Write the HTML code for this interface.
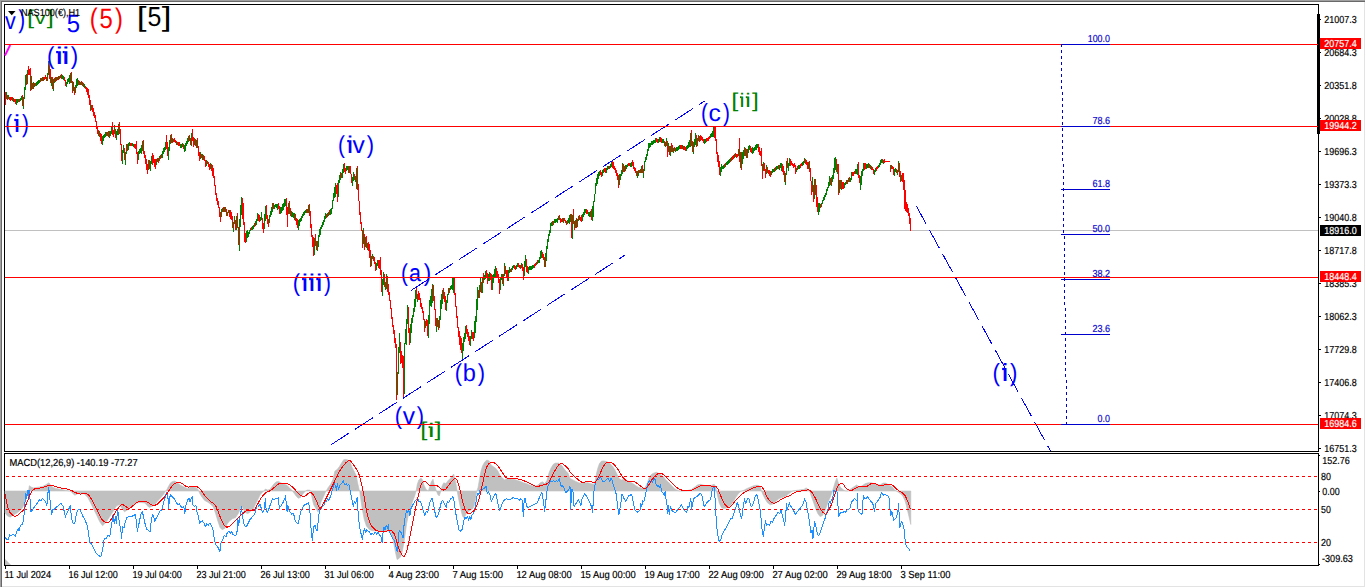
<!DOCTYPE html>
<html lang="en"><head><meta charset="utf-8"><title>NAS100 H1 chart</title>
<style>
html,body{margin:0;padding:0;background:#fff;overflow:hidden}
body{width:1366px;height:588px;font-family:'Liberation Sans', sans-serif}
svg{display:block;position:absolute;left:0;top:0}
text{white-space:pre}
</style></head><body>
<svg width="1366" height="588" viewBox="0 0 1366 588"><g shape-rendering="crispEdges">
<rect x="0" y="0" width="1366" height="588" fill="#ffffff"/>
<rect x="0" y="0" width="1365" height="1" fill="#a0a0a0"/>
<rect x="0" y="0" width="1" height="587" fill="#a0a0a0"/>
<rect x="1" y="1" width="1364" height="1" fill="#696969"/>
<rect x="1" y="1" width="1" height="586" fill="#696969"/>
<rect x="2" y="586" width="1363" height="1" fill="#e3e3e3"/>
<rect x="1364" y="2" width="1" height="585" fill="#e3e3e3"/>
<rect x="4" y="4" width="1315" height="1" fill="#000"/>
<rect x="4" y="4" width="1" height="448" fill="#000"/>
<rect x="4" y="451" width="1315" height="1" fill="#000"/>
<rect x="4" y="453" width="1315" height="1" fill="#000"/>
<rect x="4" y="453" width="1" height="113" fill="#000"/>
<rect x="4" y="565" width="1315" height="1" fill="#000"/>
<rect x="1318" y="4" width="1" height="448" fill="#000"/>
<rect x="1318" y="453" width="1" height="113" fill="#000"/>
<rect x="1317" y="14" width="3" height="120" fill="#000"/>
<rect x="5" y="230" width="1313" height="1" fill="#c0c0c0"/>
<rect x="1319" y="19" width="2" height="1" fill="#000"/>
<rect x="1319" y="52" width="2" height="1" fill="#000"/>
<rect x="1319" y="85" width="2" height="1" fill="#000"/>
<rect x="1319" y="118" width="2" height="1" fill="#000"/>
<rect x="1319" y="151" width="2" height="1" fill="#000"/>
<rect x="1319" y="184" width="2" height="1" fill="#000"/>
<rect x="1319" y="217" width="2" height="1" fill="#000"/>
<rect x="1319" y="250" width="2" height="1" fill="#000"/>
<rect x="1319" y="283" width="2" height="1" fill="#000"/>
<rect x="1319" y="316" width="2" height="1" fill="#000"/>
<rect x="1319" y="349" width="2" height="1" fill="#000"/>
<rect x="1319" y="382" width="2" height="1" fill="#000"/>
<rect x="1319" y="415" width="2" height="1" fill="#000"/>
<rect x="1319" y="448" width="2" height="1" fill="#000"/>
<rect x="1319" y="455" width="1" height="1" fill="#000"/>
<rect x="1319" y="491" width="1" height="1" fill="#000"/>
<rect x="1319" y="564" width="1" height="1" fill="#000"/>
<rect x="5" y="566" width="1" height="3" fill="#000"/>
<rect x="69" y="566" width="1" height="3" fill="#000"/>
<rect x="133" y="566" width="1" height="3" fill="#000"/>
<rect x="197" y="566" width="1" height="3" fill="#000"/>
<rect x="261" y="566" width="1" height="3" fill="#000"/>
<rect x="325" y="566" width="1" height="3" fill="#000"/>
<rect x="389" y="566" width="1" height="3" fill="#000"/>
<rect x="453" y="566" width="1" height="3" fill="#000"/>
<rect x="517" y="566" width="1" height="3" fill="#000"/>
<rect x="581" y="566" width="1" height="3" fill="#000"/>
<rect x="645" y="566" width="1" height="3" fill="#000"/>
<rect x="709" y="566" width="1" height="3" fill="#000"/>
<rect x="773" y="566" width="1" height="3" fill="#000"/>
<rect x="837" y="566" width="1" height="3" fill="#000"/>
<rect x="901" y="566" width="1" height="3" fill="#000"/>
</g>
<g>
<path d="M5.1 491.0 L5.1 512.8 L7.3 515.8 L10.2 517.2 L13.2 515.0 L16.1 513.6 L19.0 511.4 L22.0 508.4 L24.2 504.8 L25.6 498.9 L27.1 492.3 L28.6 490.9 L29.3 485.7 L31.5 487.2 L33.7 487.9 L38.1 487.2 L42.5 486.5 L45.4 485.0 L49.0 482.8 L50.5 485.0 L52.7 487.2 L55.6 488.4 L58.6 489.0 L63.0 489.8 L65.9 490.4 L68.8 490.9 L70.3 490.9 L72.5 493.1 L74.7 495.3 L77.6 493.8 L80.5 493.4 L84.2 493.8 L87.8 497.5 L90.8 503.3 L93.7 509.2 L96.6 515.0 L99.6 521.6 L102.5 525.7 L104.7 523.8 L106.9 520.9 L109.8 516.5 L112.7 512.1 L115.7 507.0 L117.1 505.5 L119.3 504.8 L121.5 507.7 L124.5 511.8 L127.4 509.9 L130.3 507.0 L133.2 505.5 L136.2 503.3 L139.1 502.6 L142.0 502.6 L144.9 503.0 L147.1 505.5 L149.3 507.4 L152.3 506.2 L155.2 504.0 L158.1 500.4 L161.1 497.5 L164.0 493.8 L165.4 490.9 L166.2 490.9 L168.4 486.5 L170.6 482.8 L172.8 481.4 L175.0 481.1 L177.2 482.8 L180.1 485.0 L183.0 486.5 L185.9 487.9 L188.9 488.7 L190.0 487.2 L192.9 486.9 L195.9 487.5 L198.1 489.4 L198.8 490.9 L199.5 493.1 L201.7 496.7 L204.6 500.4 L207.6 502.1 L210.5 504.0 L213.4 507.0 L215.6 513.6 L217.8 520.9 L220.0 527.5 L222.2 529.7 L225.1 528.2 L227.3 523.8 L229.5 520.9 L232.5 518.7 L235.4 517.7 L238.3 513.6 L240.5 508.4 L242.0 506.2 L243.4 509.2 L245.6 512.8 L247.8 513.6 L250.0 512.1 L253.0 509.2 L255.9 503.3 L258.1 498.9 L260.3 494.5 L262.5 492.3 L263.9 490.9 L265.4 489.0 L267.6 490.1 L269.8 489.4 L272.0 486.5 L274.2 483.6 L276.4 481.8 L278.6 481.4 L280.8 482.8 L283.7 484.3 L286.6 485.0 L289.6 487.9 L291.8 490.1 L292.5 490.9 L294.0 493.1 L296.1 496.0 L298.3 498.2 L300.5 497.5 L302.0 495.3 L304.2 492.3 L305.7 490.9 L307.1 490.1 L309.3 490.1 L310.8 490.9 L312.3 498.9 L313.7 504.8 L315.9 508.4 L318.1 512.1 L319.6 507.0 L321.0 501.9 L323.2 497.5 L325.4 492.3 L326.2 490.9 L328.4 487.2 L330.6 484.3 L332.8 479.9 L334.9 471.1 L337.1 469.6 L339.3 466.7 L341.5 463.1 L343.7 459.7 L345.9 459.4 L348.1 460.1 L350.3 462.3 L351.8 466.7 L354.0 471.1 L356.2 475.5 L357.6 482.8 L359.1 489.4 L359.8 490.9 L360.1 494.4 L360.5 497.3 L362.0 507.6 L364.2 519.3 L366.4 525.9 L369.3 529.5 L372.2 530.7 L376.6 531.0 L382.5 531.0 L388.3 531.0 L390.5 532.5 L392.7 538.3 L394.2 545.6 L395.6 553.0 L397.1 559.5 L398.6 558.8 L400.8 556.6 L402.2 551.5 L403.7 544.2 L405.2 533.9 L406.6 523.7 L408.1 516.4 L410.3 509.0 L412.5 501.7 L414.7 495.9 L416.1 491.0 L417.3 484.3 L418.8 479.9 L421.0 478.1 L422.5 479.9 L423.9 485.0 L426.1 489.4 L428.3 490.9 L429.8 486.5 L431.2 482.1 L433.0 479.2 L434.2 484.3 L436.4 490.9 L437.8 494.5 L439.3 496.0 L440.8 490.9 L442.2 485.7 L443.7 482.8 L445.9 483.6 L448.1 480.6 L450.3 478.4 L451.7 476.7 L453.6 474.0 L454.7 477.7 L456.1 484.3 L457.2 490.9 L458.3 497.5 L459.8 504.8 L461.3 511.4 L462.7 516.5 L464.2 517.7 L466.4 513.6 L468.6 511.4 L470.8 509.9 L473.0 508.4 L474.4 504.8 L475.9 497.5 L476.9 490.9 L478.1 487.2 L479.6 478.4 L481.0 471.1 L482.5 466.0 L484.7 462.0 L486.9 460.1 L489.1 460.9 L491.3 465.2 L493.5 466.7 L495.7 468.2 L497.9 471.1 L500.1 475.5 L502.3 477.7 L504.5 479.9 L506.6 478.4 L508.8 478.7 L511.8 479.2 L514.7 479.6 L517.6 480.6 L520.6 481.4 L523.5 482.8 L526.4 483.6 L529.3 485.0 L532.3 485.7 L535.2 486.2 L538.1 485.0 L540.3 482.8 L542.5 481.8 L544.7 483.6 L546.9 480.6 L549.1 472.6 L551.3 467.4 L553.5 464.1 L555.7 463.1 L558.6 463.1 L561.6 465.2 L563.7 468.2 L565.9 471.1 L568.1 473.3 L570.0 478.4 L572.9 479.9 L575.9 481.4 L578.8 482.8 L581.7 483.6 L584.6 482.8 L587.6 482.8 L590.5 483.6 L593.4 484.3 L594.9 482.8 L596.4 474.0 L597.8 468.2 L599.3 463.8 L601.5 461.1 L603.7 460.9 L606.6 461.6 L609.5 463.1 L612.5 466.0 L614.7 469.6 L616.9 474.0 L619.0 478.4 L621.2 479.9 L624.2 479.2 L627.1 480.6 L630.0 482.1 L633.0 483.6 L635.9 485.7 L638.8 487.5 L641.7 487.9 L644.7 487.9 L646.9 484.3 L648.3 479.9 L649.8 476.2 L652.0 474.0 L654.2 472.9 L656.4 472.3 L658.6 473.3 L660.8 474.8 L663.7 477.0 L665.9 479.9 L668.1 482.1 L670.3 484.3 L672.5 486.5 L674.7 488.7 L676.9 490.1 L679.1 490.9 L682.7 490.9 L687.1 490.6 L691.5 489.4 L694.5 487.2 L697.4 485.0 L700.3 484.3 L703.2 485.0 L706.2 485.7 L709.1 486.0 L712.0 485.0 L714.2 484.3 L715.7 486.5 L716.4 490.9 L717.9 497.5 L719.3 503.3 L721.5 507.7 L723.7 508.4 L726.7 508.0 L729.6 506.2 L731.8 504.0 L734.0 500.4 L736.2 496.7 L738.4 493.8 L740.6 491.6 L742.0 490.9 L744.2 490.1 L747.2 488.4 L750.1 487.2 L753.0 486.0 L755.9 485.3 L758.1 485.3 L760.3 486.5 L761.5 490.9 L762.9 494.5 L765.1 498.9 L767.3 502.6 L770.2 504.8 L773.2 504.0 L776.1 501.1 L779.0 498.6 L782.0 497.5 L784.9 496.7 L787.8 494.5 L790.7 492.3 L792.9 490.9 L795.1 490.6 L798.1 490.1 L801.0 489.8 L803.9 489.4 L806.1 487.9 L808.3 489.4 L809.8 490.9 L811.2 496.0 L813.4 501.9 L815.6 508.4 L817.8 513.6 L820.0 516.5 L822.2 515.8 L824.4 512.1 L826.6 506.2 L828.8 500.4 L831.0 495.3 L832.5 490.9 L833.9 486.5 L835.4 481.4 L836.9 478.1 L838.3 482.8 L839.8 486.5 L841.3 487.9 L843.5 490.1 L845.7 490.9 L847.8 490.9 L850.0 489.4 L852.2 487.9 L854.4 486.5 L856.6 485.0 L858.8 486.5 L861.0 486.5 L863.2 485.0 L865.4 483.6 L868.3 482.8 L871.3 482.8 L874.2 483.6 L877.1 484.3 L880.1 485.0 L883.0 483.1 L885.9 483.1 L888.8 485.0 L891.8 486.5 L894.7 490.1 L896.2 490.9 L898.4 492.3 L900.6 493.8 L902.8 496.0 L904.9 500.4 L906.4 505.5 L907.9 512.1 L909.3 518.0 L910.8 524.5 L910.8 491.0Z" fill="#c0c0c0" stroke="#c0c0c0" stroke-width="0.6"/>
<path d="M5 559 L5 565 L11 565Z" fill="#c0c0c0"/>
<line x1="6" y1="476.5" x2="1317" y2="476.5" stroke="#ff0000" stroke-width="1" stroke-dasharray="3 3" shape-rendering="crispEdges"/>
<line x1="6" y1="509.5" x2="1317" y2="509.5" stroke="#ff0000" stroke-width="1" stroke-dasharray="3 3" shape-rendering="crispEdges"/>
<line x1="6" y1="542.5" x2="1317" y2="542.5" stroke="#ff0000" stroke-width="1" stroke-dasharray="3 3" shape-rendering="crispEdges"/>
<path d="M5.1 537.0 L6.6 539.2 L8.1 540.2 L9.5 534.8 L11.0 536.3 L12.4 534.1 L13.9 534.8 L15.4 536.3 L16.8 531.1 L18.3 528.9 L19.0 531.1 L20.5 525.3 L22.0 524.5 L23.1 521.6 L24.2 513.6 L24.9 503.3 L25.6 493.1 L26.4 498.9 L27.4 490.9 L28.1 496.7 L29.0 490.1 L30.0 498.9 L30.7 511.4 L32.2 510.6 L33.7 507.7 L35.1 506.2 L36.6 504.0 L38.1 501.9 L39.5 499.7 L41.0 500.4 L42.5 498.2 L43.9 499.7 L45.4 501.9 L46.9 505.5 L47.9 493.1 L48.8 487.9 L49.8 497.5 L50.8 507.7 L51.5 515.0 L52.7 509.9 L54.2 509.2 L56.4 507.0 L58.6 505.5 L60.8 503.3 L63.0 506.2 L64.4 512.1 L65.4 517.2 L66.6 513.6 L68.1 510.6 L70.3 505.5 L71.7 519.4 L73.2 523.1 L74.7 523.8 L75.7 518.0 L76.9 512.1 L78.3 509.2 L79.8 509.9 L81.3 512.8 L82.7 515.8 L84.2 518.7 L85.7 521.6 L87.1 525.3 L88.3 531.1 L88.9 536.6 L90.0 542.5 L91.5 543.9 L93.7 548.3 L95.9 552.7 L98.1 555.3 L100.3 556.4 L101.3 555.6 L102.5 549.8 L104.0 540.3 L105.1 538.1 L106.1 538.8 L107.6 535.9 L109.1 535.1 L109.8 536.6 L110.5 531.1 L112.0 522.3 L113.0 515.0 L114.2 523.8 L115.4 516.5 L116.4 523.1 L117.6 509.2 L118.6 516.5 L119.8 525.3 L120.8 529.7 L121.5 538.5 L122.7 526.7 L124.2 527.5 L125.2 522.3 L126.6 518.0 L128.8 516.5 L131.0 516.5 L133.2 515.8 L135.4 514.3 L136.5 522.3 L137.3 531.1 L138.4 526.7 L139.8 519.4 L141.3 512.8 L142.3 511.4 L143.5 516.5 L144.9 523.1 L146.4 528.9 L148.6 530.4 L150.1 531.9 L151.1 522.3 L152.6 514.3 L153.7 517.2 L154.8 521.6 L155.9 518.7 L157.4 516.5 L158.9 513.6 L160.3 510.6 L161.8 509.9 L163.3 504.0 L164.7 498.9 L166.2 493.1 L166.9 492.3 L168.1 498.9 L168.7 508.4 L169.5 498.2 L170.6 494.5 L172.0 496.7 L173.5 498.2 L175.0 499.7 L176.4 502.6 L177.9 504.8 L179.4 504.0 L180.8 506.2 L182.3 507.7 L183.7 506.2 L184.8 513.6 L185.9 505.5 L187.4 500.4 L188.9 498.2 L190.0 501.9 L191.2 498.9 L192.2 496.7 L192.9 504.8 L194.4 506.2 L195.9 505.5 L196.6 511.4 L198.1 515.0 L199.5 523.1 L201.0 521.6 L202.4 520.9 L203.9 523.1 L205.4 526.7 L206.8 523.8 L208.3 525.3 L209.8 523.1 L211.2 525.3 L212.7 528.2 L213.4 532.5 L214.2 538.3 L215.6 544.2 L217.8 547.1 L220.0 551.5 L221.0 542.7 L222.2 540.5 L224.4 535.4 L225.9 536.9 L227.3 532.6 L228.8 531.1 L230.3 533.3 L231.7 531.9 L233.2 534.8 L234.7 535.5 L236.1 534.8 L237.1 531.1 L237.9 519.4 L238.8 525.3 L239.8 516.5 L240.8 512.8 L241.5 507.0 L242.3 514.3 L243.0 519.4 L244.2 525.3 L245.6 526.7 L247.1 525.3 L248.6 522.3 L250.0 519.4 L251.5 518.0 L253.0 515.8 L254.4 514.3 L255.6 511.4 L256.6 506.2 L257.6 504.0 L258.8 506.2 L260.0 504.0 L261.3 508.4 L262.5 512.1 L263.9 510.6 L264.7 504.0 L265.4 498.9 L266.1 509.2 L267.3 512.8 L268.3 510.6 L269.8 506.2 L271.3 501.9 L272.7 498.9 L274.2 499.7 L275.7 498.2 L277.1 498.9 L278.3 497.5 L279.3 508.4 L280.8 506.2 L282.2 504.0 L283.7 501.1 L285.2 497.5 L285.6 495.3 L286.3 505.5 L287.1 511.4 L287.8 505.5 L288.8 509.9 L290.3 512.1 L291.8 514.3 L293.2 513.6 L294.4 516.5 L295.4 521.6 L296.9 523.1 L298.3 523.1 L299.4 518.0 L300.5 512.1 L302.0 509.2 L303.5 506.2 L304.9 504.8 L306.4 504.0 L307.6 503.3 L308.6 502.6 L309.6 507.7 L310.4 518.0 L311.2 531.1 L312.3 540.5 L313.3 529.5 L313.7 526.7 L315.2 525.3 L316.2 529.7 L317.1 530.4 L318.1 522.3 L318.8 515.0 L319.9 509.2 L321.0 508.4 L322.5 506.2 L324.0 505.5 L325.0 499.7 L326.2 501.9 L327.3 498.9 L328.4 500.4 L329.8 498.2 L331.3 493.8 L332.8 488.7 L334.2 483.6 L335.4 485.7 L336.4 490.1 L337.4 483.6 L338.6 489.4 L339.6 485.7 L340.8 484.3 L342.3 482.8 L343.3 480.6 L344.2 483.6 L345.2 485.0 L346.4 483.6 L347.4 485.7 L348.6 484.3 L349.6 486.5 L350.3 492.3 L351.5 497.5 L352.5 501.9 L353.3 507.0 L354.3 501.9 L355.4 503.3 L356.5 500.4 L357.3 497.5 L357.9 509.2 L358.7 519.4 L359.5 526.7 L360.6 531.1 L361.6 536.9 L362.5 539.0 L363.5 531.0 L364.5 528.9 L365.7 532.6 L366.9 529.7 L367.9 531.1 L369.4 531.9 L370.8 534.8 L372.3 533.3 L373.7 534.8 L375.2 531.9 L376.7 534.1 L378.1 531.9 L379.6 534.8 L381.1 536.9 L382.1 542.4 L383.3 530.3 L384.0 526.7 L385.0 530.4 L386.2 525.3 L387.4 528.2 L388.4 524.5 L388.6 528.1 L389.8 532.5 L391.2 535.4 L392.7 538.3 L394.2 540.5 L395.3 544.2 L396.4 548.6 L397.1 551.5 L397.8 544.2 L398.6 535.4 L399.3 530.3 L400.3 531.7 L401.5 533.2 L403.0 538.3 L403.7 529.5 L404.4 520.7 L405.6 514.9 L406.6 510.5 L407.8 512.7 L408.8 510.5 L410.0 515.6 L410.7 509.2 L412.2 506.2 L413.7 503.3 L415.1 501.1 L416.6 499.7 L417.8 498.6 L418.8 501.9 L420.3 501.1 L421.7 504.8 L423.2 510.6 L424.7 515.8 L426.1 511.4 L427.6 512.8 L429.0 506.2 L430.5 500.4 L432.0 498.5 L433.4 503.3 L434.9 512.1 L436.4 518.0 L437.8 515.8 L439.3 510.6 L440.8 504.0 L442.2 500.4 L443.7 501.9 L445.2 505.5 L446.2 507.7 L447.3 501.9 L448.8 502.6 L450.3 498.9 L451.7 498.2 L452.9 496.4 L453.9 500.4 L455.0 507.7 L456.1 515.0 L457.6 523.1 L459.1 530.4 L460.5 531.1 L462.0 529.7 L463.2 523.8 L464.6 517.2 L466.1 518.7 L467.6 516.5 L468.6 520.2 L469.6 516.5 L470.8 519.4 L471.9 515.0 L473.3 513.6 L474.4 510.6 L475.6 504.8 L476.6 497.5 L477.8 493.1 L478.8 494.5 L480.3 489.4 L481.8 490.1 L483.2 488.7 L484.7 487.9 L486.1 486.5 L487.3 493.8 L488.6 491.6 L490.1 495.3 L491.3 501.9 L492.7 498.2 L494.2 496.0 L495.7 493.1 L496.8 497.5 L498.3 505.5 L499.8 510.6 L501.2 506.2 L503.0 501.9 L504.7 499.7 L506.6 498.9 L508.8 499.7 L511.0 498.9 L513.2 497.5 L515.4 498.9 L517.6 498.2 L519.1 500.4 L520.6 498.9 L522.0 499.7 L522.8 509.9 L523.5 516.5 L524.2 498.9 L525.2 498.2 L526.4 505.5 L527.9 507.7 L529.3 507.0 L530.8 506.2 L533.0 504.8 L535.2 504.0 L537.4 502.6 L538.9 498.9 L540.3 495.3 L541.8 492.3 L542.8 497.5 L544.0 506.2 L544.7 511.4 L545.4 504.8 L546.6 494.5 L547.6 487.2 L549.1 483.6 L550.6 480.6 L552.0 481.4 L553.5 480.6 L555.0 481.4 L556.4 480.6 L557.9 481.4 L559.4 478.4 L560.4 484.3 L561.6 486.5 L563.0 485.7 L564.5 489.4 L565.9 493.1 L567.4 490.9 L568.9 489.4 L570.0 486.5 L570.7 509.2 L571.8 489.4 L572.9 490.1 L574.1 507.0 L575.6 504.0 L577.0 501.9 L578.5 499.7 L580.0 502.6 L581.0 505.5 L582.0 498.9 L583.5 496.0 L584.9 493.8 L586.4 496.0 L587.9 498.9 L589.3 501.9 L590.8 504.8 L592.0 508.4 L592.7 512.1 L593.4 497.5 L594.2 488.7 L595.2 484.3 L596.4 479.9 L597.5 478.4 L598.6 479.2 L600.0 477.7 L601.5 478.4 L602.9 482.1 L604.4 481.4 L605.9 479.9 L607.3 478.4 L608.8 479.2 L609.8 481.4 L611.0 478.4 L612.2 480.6 L613.2 485.0 L614.7 489.4 L616.1 493.8 L617.1 501.9 L618.0 509.2 L618.8 515.0 L619.8 509.2 L621.0 501.9 L622.0 493.8 L623.0 496.0 L624.2 498.9 L625.6 501.1 L627.1 498.9 L628.6 496.0 L630.0 495.3 L631.5 494.2 L632.7 498.9 L633.7 504.8 L634.7 509.9 L636.2 511.4 L637.3 512.1 L638.8 511.4 L640.0 509.9 L640.7 503.3 L641.7 506.2 L642.8 500.4 L643.9 501.9 L645.0 496.7 L646.1 491.6 L647.3 486.5 L648.3 482.1 L649.4 480.6 L650.5 482.8 L651.7 480.6 L652.7 482.1 L653.7 479.9 L654.9 478.4 L655.9 483.6 L657.1 486.5 L658.3 485.0 L659.3 487.9 L660.5 484.3 L661.5 491.6 L663.0 493.1 L664.4 495.3 L665.2 490.9 L665.9 498.9 L666.9 503.3 L667.7 513.6 L668.4 505.5 L669.3 514.3 L670.3 506.2 L671.3 509.2 L672.5 511.4 L674.0 512.1 L675.4 512.8 L676.9 510.6 L678.3 508.4 L679.8 507.0 L681.3 504.8 L682.4 507.0 L683.9 509.9 L685.7 511.4 L686.7 512.8 L687.9 506.2 L688.9 507.7 L690.1 501.9 L690.8 498.2 L691.5 509.2 L692.7 503.3 L693.7 498.9 L695.2 497.5 L696.6 496.7 L698.1 495.3 L699.6 493.8 L701.0 493.8 L702.2 496.7 L703.2 501.9 L704.3 507.0 L705.4 504.8 L706.9 502.6 L708.4 501.1 L709.8 500.4 L711.0 496.7 L712.0 490.9 L713.2 487.9 L714.2 487.2 L714.9 496.0 L715.7 510.6 L716.4 522.3 L717.1 529.7 L718.2 537.0 L719.3 541.7 L720.8 539.9 L722.3 534.1 L724.5 530.4 L726.7 526.7 L728.9 522.3 L731.1 518.0 L732.2 518.7 L733.3 515.0 L734.7 510.6 L736.2 506.2 L737.3 502.6 L738.4 505.5 L739.5 510.6 L740.6 515.0 L741.6 518.7 L742.5 512.1 L743.5 504.8 L744.5 498.9 L745.7 504.0 L746.9 500.4 L747.9 498.2 L748.9 498.9 L750.1 503.3 L751.3 507.0 L752.7 504.8 L754.2 500.4 L755.2 496.7 L756.7 494.5 L757.8 497.5 L758.9 503.3 L760.0 509.2 L761.2 519.4 L762.2 531.1 L763.2 536.3 L764.4 528.2 L765.6 520.9 L766.6 525.3 L768.1 523.8 L769.5 525.3 L771.0 521.6 L772.4 522.3 L773.9 518.7 L775.4 516.5 L776.8 514.3 L778.3 512.1 L779.8 513.6 L781.2 509.9 L782.3 515.8 L783.4 519.4 L784.6 525.3 L785.6 518.0 L786.4 503.3 L787.4 509.2 L788.6 505.5 L789.3 502.6 L790.3 505.5 L791.5 507.0 L792.9 509.9 L794.4 512.1 L795.4 514.3 L796.6 512.8 L798.1 510.6 L799.5 509.2 L801.0 507.0 L802.5 505.5 L803.6 501.9 L804.7 498.9 L806.1 502.6 L807.1 508.4 L808.0 512.8 L809.0 519.4 L810.1 526.7 L811.0 532.6 L812.0 529.7 L813.0 538.5 L813.9 528.2 L814.6 521.6 L815.6 525.3 L816.8 531.1 L818.1 535.2 L819.3 534.8 L820.8 531.1 L822.2 526.7 L823.7 522.3 L825.2 518.0 L826.6 513.6 L828.1 508.4 L829.3 501.9 L830.3 503.3 L831.4 499.7 L832.5 501.9 L833.6 490.1 L834.7 490.9 L835.7 493.8 L836.4 490.1 L837.3 493.1 L838.0 506.2 L838.8 516.5 L839.8 513.6 L841.3 512.1 L842.7 512.8 L844.2 511.4 L845.7 512.1 L847.1 509.9 L848.6 509.2 L850.0 508.4 L851.5 501.9 L853.0 500.4 L854.4 498.2 L855.9 499.7 L856.9 501.1 L857.5 493.8 L858.1 511.4 L859.6 512.8 L861.0 513.6 L862.0 514.3 L862.8 501.9 L863.5 495.3 L864.7 498.9 L866.1 498.2 L867.6 496.7 L869.1 498.9 L870.5 501.1 L872.0 502.6 L873.5 505.5 L874.5 511.4 L875.7 503.3 L877.1 501.9 L878.6 499.7 L880.1 497.5 L881.2 492.8 L882.3 493.8 L883.7 495.3 L885.2 494.5 L886.6 495.3 L888.1 496.0 L889.3 498.2 L890.0 509.2 L890.7 515.8 L891.8 511.4 L892.8 515.8 L893.7 520.2 L894.7 519.4 L895.9 518.0 L896.9 515.8 L897.9 511.4 L898.5 503.3 L899.1 513.6 L899.8 527.5 L900.8 523.8 L901.7 521.6 L902.8 524.5 L903.8 528.2 L904.6 531.2 L905.3 544.3 L906.8 546.5 L908.2 548.0 L909.7 550.5" fill="none" stroke="#1e90ff" stroke-width="1" stroke-linejoin="round" shape-rendering="crispEdges"/>
<path d="M5.1 493.8 L6.6 501.9 L8.1 508.4 L10.2 512.8 L12.4 515.0 L14.6 516.2 L16.8 515.8 L19.0 514.3 L21.2 512.1 L23.4 509.9 L25.6 505.5 L27.8 500.4 L30.0 494.5 L32.2 490.9 L34.4 489.0 L37.3 488.4 L41.0 487.9 L43.9 487.2 L46.9 486.0 L49.8 485.3 L52.7 485.5 L55.6 486.5 L58.6 487.5 L62.2 488.4 L65.9 488.7 L68.8 489.4 L71.7 490.6 L74.7 492.3 L77.6 493.4 L80.5 494.1 L83.5 493.8 L85.7 493.5 L87.8 494.5 L90.0 496.7 L92.2 500.4 L94.4 504.8 L96.6 509.2 L98.8 513.6 L101.0 518.0 L103.2 520.9 L105.4 522.3 L107.6 522.6 L109.8 521.6 L112.0 518.0 L114.2 514.3 L116.4 510.6 L118.6 507.7 L120.8 505.2 L122.3 504.5 L124.5 505.5 L126.6 507.0 L128.8 508.4 L131.0 507.7 L133.2 505.5 L135.4 503.6 L137.6 502.1 L140.6 501.6 L143.5 501.3 L146.4 501.9 L148.6 502.6 L150.8 504.5 L153.0 505.5 L155.2 505.2 L157.4 504.0 L159.6 502.1 L161.8 499.7 L164.0 497.5 L166.2 494.5 L168.4 491.6 L170.6 487.9 L172.8 485.0 L175.0 483.3 L177.2 482.4 L179.4 482.4 L181.6 483.1 L183.7 484.7 L185.9 486.2 L188.1 487.2 L190.0 486.5 L193.7 486.5 L196.6 486.2 L198.8 487.9 L201.7 490.9 L204.6 495.3 L207.6 498.9 L210.5 501.6 L213.4 503.3 L215.6 505.5 L217.8 510.6 L220.0 516.5 L222.2 521.6 L224.4 525.3 L226.6 527.2 L228.8 526.7 L231.0 525.0 L233.9 522.3 L236.9 519.4 L239.8 516.5 L242.7 513.6 L244.9 511.4 L247.1 510.3 L249.3 510.3 L251.5 510.6 L254.4 510.3 L256.6 506.2 L258.8 501.9 L261.0 498.2 L263.2 495.3 L265.4 493.1 L267.6 491.6 L269.8 490.9 L272.0 489.4 L274.2 487.5 L276.4 485.5 L278.6 484.0 L280.8 483.3 L283.7 483.1 L286.6 483.6 L289.6 484.7 L292.5 486.9 L295.4 490.1 L298.3 493.1 L300.5 495.3 L302.7 496.4 L304.9 496.3 L307.1 494.5 L309.3 492.6 L310.8 492.3 L313.0 494.5 L315.2 498.2 L317.4 503.3 L318.8 507.0 L320.0 509.2 L321.8 506.2 L324.0 502.6 L326.2 498.2 L328.4 493.8 L330.6 489.4 L332.8 485.0 L334.9 480.6 L337.1 476.2 L339.3 471.8 L341.5 468.2 L343.7 465.2 L345.9 462.8 L348.1 461.1 L349.6 460.4 L351.1 461.6 L353.3 464.5 L355.4 467.4 L357.6 471.1 L359.1 474.8 L360.6 479.9 L362.0 485.7 L363.5 493.1 L365.0 501.9 L366.4 509.9 L367.9 516.5 L369.4 521.6 L371.6 526.0 L373.7 528.2 L375.9 530.4 L378.9 531.4 L383.3 531.4 L385.4 531.4 L389.8 530.3 L392.0 531.0 L394.2 533.9 L395.6 537.6 L397.1 542.7 L398.6 547.8 L400.0 551.5 L402.2 555.2 L404.0 556.6 L405.9 553.7 L407.3 548.6 L408.8 542.0 L410.3 534.7 L411.7 527.3 L413.2 520.0 L414.7 512.7 L416.1 505.4 L417.6 498.8 L419.1 492.9 L419.5 490.1 L421.0 485.0 L422.5 482.4 L423.9 481.4 L425.4 481.6 L427.6 483.6 L429.8 485.7 L432.0 486.0 L434.2 485.5 L436.4 485.3 L438.6 486.9 L440.8 489.0 L443.0 490.1 L445.2 489.7 L447.3 487.2 L449.5 484.3 L451.7 481.4 L453.9 479.2 L455.4 478.4 L456.9 479.9 L458.3 483.6 L459.8 488.7 L461.3 495.3 L462.7 501.9 L464.2 507.0 L465.7 510.6 L467.1 512.8 L468.6 513.9 L470.0 513.6 L472.2 512.1 L474.4 509.9 L476.6 506.2 L478.1 501.9 L479.6 496.7 L481.0 490.9 L482.5 484.3 L484.0 477.0 L485.4 471.1 L486.9 466.7 L489.1 463.5 L491.3 462.3 L493.5 462.3 L495.7 463.8 L497.9 466.0 L500.1 468.9 L502.3 472.6 L504.5 475.8 L506.6 478.0 L508.8 478.4 L511.8 478.4 L514.7 478.4 L517.6 478.9 L520.6 479.6 L523.5 480.6 L526.4 481.8 L529.3 483.3 L532.3 484.7 L535.2 486.0 L537.4 486.5 L539.6 486.0 L541.8 485.3 L544.0 484.7 L546.2 484.3 L548.4 482.8 L550.6 479.2 L552.8 474.8 L555.0 470.4 L557.2 466.7 L559.4 464.2 L561.6 463.5 L563.7 464.5 L565.9 466.4 L568.1 468.5 L570.0 471.8 L572.9 474.8 L575.9 477.7 L578.8 480.2 L581.7 482.1 L583.9 482.4 L586.1 481.4 L589.0 481.4 L592.0 482.1 L594.9 482.5 L597.1 479.9 L599.3 475.5 L601.5 470.4 L603.7 466.0 L605.9 463.1 L608.1 462.0 L611.0 462.3 L613.2 463.8 L615.4 466.0 L617.6 468.9 L619.8 472.6 L622.0 476.2 L624.2 478.9 L626.4 480.9 L628.6 481.6 L630.8 481.1 L633.0 481.1 L635.2 482.1 L637.3 483.6 L639.5 485.3 L641.7 486.9 L643.9 488.4 L645.4 488.7 L646.9 487.5 L649.1 484.3 L651.3 480.6 L653.5 477.7 L655.7 475.2 L657.8 473.7 L660.0 473.3 L662.2 473.7 L664.4 475.2 L666.6 477.3 L668.8 479.6 L671.0 482.1 L673.2 484.3 L675.4 486.5 L677.6 488.2 L679.8 489.4 L682.7 490.4 L685.7 490.9 L689.3 490.6 L693.0 489.7 L695.9 488.2 L698.8 486.5 L701.8 485.5 L704.7 485.3 L707.6 485.5 L710.6 486.0 L714.2 486.2 L716.4 486.8 L717.9 489.0 L719.3 492.3 L720.8 496.0 L723.0 501.1 L725.2 504.8 L727.4 507.0 L729.6 507.3 L731.8 505.5 L734.0 502.6 L736.2 499.7 L738.4 497.5 L740.6 495.3 L742.8 493.4 L745.0 491.9 L747.2 490.9 L749.4 489.7 L751.6 488.7 L753.7 487.7 L755.9 486.9 L758.1 486.2 L760.0 486.5 L762.2 487.2 L764.4 490.9 L766.6 496.0 L768.8 499.7 L771.7 502.6 L774.6 503.3 L777.6 501.9 L780.5 499.7 L783.4 498.2 L786.4 497.0 L789.3 496.0 L791.5 494.5 L793.7 493.1 L796.6 491.6 L799.5 491.2 L802.5 490.9 L805.4 490.4 L807.6 489.8 L809.8 490.1 L812.0 492.3 L814.2 496.0 L816.4 500.4 L818.6 505.5 L820.8 509.9 L823.0 512.4 L825.2 514.3 L826.6 513.6 L828.8 509.9 L831.0 505.5 L833.2 499.7 L835.4 493.1 L836.9 487.9 L839.1 484.3 L841.3 483.1 L843.5 484.3 L845.7 487.9 L847.8 489.7 L850.0 490.4 L852.2 490.1 L854.4 489.0 L856.6 487.9 L858.8 486.5 L861.0 486.0 L863.2 486.9 L865.4 486.9 L867.6 486.0 L869.8 484.3 L872.0 483.3 L874.2 483.3 L876.4 484.3 L878.6 485.3 L881.5 485.3 L884.5 485.0 L886.6 484.3 L889.6 484.3 L891.8 484.7 L894.0 486.5 L896.2 488.7 L898.4 490.6 L900.6 491.9 L902.8 493.1 L904.9 495.3 L906.4 498.2 L907.9 501.9 L909.3 505.5 L910.5 509.2" fill="none" stroke="#ff0000" stroke-width="1" stroke-linejoin="round" shape-rendering="crispEdges"/>
</g>
<g shape-rendering="crispEdges" fill="none" stroke-width="1">
<path d="M6.5 92V99M8.5 95V99M13.5 98V102M16.5 99V105M17.5 99V103M18.5 99V102M20.5 98V101M21.5 96V100M23.5 97V109M24.5 87V99M25.5 75V90M27.5 70V84M31.5 76V90M33.5 82V89M34.5 83V87M36.5 82V86M37.5 81V85M38.5 80V84M39.5 80V83M41.5 78V81M43.5 77V81M47.5 73V81M48.5 61V75M51.5 77V86M53.5 79V91M54.5 78V83M57.5 77V80M59.5 76V79M60.5 75V78M62.5 75V79M63.5 76V80M66.5 82V87M67.5 79V84M68.5 78V82M69.5 75V84M70.5 73V83M73.5 82V91M75.5 85V93M76.5 79V88M77.5 78V86M79.5 81V85M80.5 82V85M83.5 83V87M84.5 84V88M91.5 105V110M99.5 131V137M102.5 136V145M103.5 135V141M104.5 134V138M105.5 132V137M106.5 132V136M109.5 131V138M110.5 131V136M111.5 126V134M114.5 125V134M116.5 131V140M117.5 129V135M118.5 124V135M122.5 150V164M123.5 145V153M125.5 152V165M126.5 144V154M128.5 143V150M129.5 142V146M132.5 143V146M133.5 144V147M138.5 151V160M139.5 149V154M140.5 148V153M141.5 145V154M142.5 141V151M148.5 160V170M150.5 161V171M151.5 156V164M156.5 159V165M159.5 156V161M161.5 154V158M162.5 151V158M163.5 148V154M164.5 147V152M165.5 142V150M168.5 147V160M169.5 140V151M170.5 135V144M173.5 139V142M177.5 142V145M180.5 144V148M181.5 144V148M182.5 143V147M184.5 145V152M185.5 143V151M186.5 141V146M187.5 138V144M188.5 136V142M191.5 133V146M194.5 138V145M196.5 140V148M200.5 152V159M202.5 154V160M206.5 160V166M210.5 163V169M221.5 209V217M222.5 208V212M224.5 207V212M227.5 212V216M228.5 210V213M233.5 222V232M234.5 216V224M236.5 216V230M239.5 219V251M240.5 205V227M241.5 197V215M246.5 231V242M247.5 230V238M248.5 232V237M249.5 230V234M250.5 228V231M252.5 226V230M253.5 225V229M255.5 221V226M256.5 219V225M257.5 213V221M260.5 217V221M261.5 212V220M264.5 214V229M265.5 206V221M269.5 215V223M270.5 211V217M271.5 207V215M272.5 203V212M274.5 205V209M275.5 204V207M276.5 204V208M277.5 204V210M280.5 207V214M281.5 207V213M282.5 204V211M283.5 203V210M284.5 199V207M285.5 199V206M288.5 203V214M291.5 211V217M292.5 212V217M293.5 213V218M294.5 213V220M298.5 220V230M299.5 219V226M300.5 218V222M301.5 216V221M302.5 214V218M303.5 212V216M304.5 211V215M305.5 210V213M307.5 209V213M308.5 205V213M314.5 238V255M317.5 241V251M318.5 235V247M319.5 229V237M320.5 227V235M321.5 225V229M322.5 222V227M323.5 220V225M324.5 216V222M325.5 213V219M327.5 213V217M328.5 212V216M330.5 209V215M331.5 208V214M332.5 200V209M333.5 193V201M334.5 187V198M335.5 183V197M338.5 180V197M339.5 175V183M340.5 172V180M342.5 169V178M343.5 164V173M346.5 166V171M347.5 166V170M349.5 166V173M352.5 177V186M353.5 172V181M355.5 176V182M356.5 168V189M363.5 228V244M365.5 237V247M367.5 243V250M371.5 256V266M372.5 254V259M376.5 263V270M377.5 260V266M382.5 279V296M383.5 272V285M385.5 282V290M386.5 274V289M397.5 372V395M398.5 347V374M399.5 333V353M404.5 343V394M405.5 329V344M406.5 319V345M407.5 305V324M410.5 324V343M411.5 318V333M412.5 315V323M413.5 308V317M414.5 299V312M415.5 290V307M417.5 294V302M425.5 321V328M428.5 315V338M429.5 300V324M430.5 296V306M431.5 289V307M432.5 284V303M436.5 318V332M439.5 316V328M440.5 300V320M441.5 294V309M442.5 290V304M446.5 300V311M447.5 294V303M448.5 288V295M450.5 286V290M451.5 285V289M452.5 278V290M453.5 277V293M462.5 343V359M463.5 337V351M464.5 333V342M465.5 326V339M470.5 336V346M471.5 330V339M474.5 321V338M475.5 316V333M476.5 299V322M477.5 287V310M479.5 285V298M480.5 278V292M482.5 277V293M484.5 275V280M485.5 271V279M488.5 274V281M489.5 272V281M492.5 275V290M493.5 274V283M494.5 269V277M495.5 266V277M500.5 278V290M501.5 274V280M503.5 274V286M504.5 263V276M508.5 270V281M509.5 267V273M511.5 268V272M512.5 266V270M513.5 265V268M516.5 265V269M517.5 263V267M521.5 263V268M524.5 261V276M525.5 255V267M528.5 267V274M529.5 266V270M530.5 266V270M531.5 266V270M532.5 265V269M533.5 265V268M536.5 262V265M538.5 260V263M539.5 257V263M540.5 251V259M541.5 250V258M545.5 253V267M546.5 246V261M547.5 239V249M548.5 234V242M549.5 230V236M550.5 223V233M551.5 222V226M552.5 221V226M554.5 219V223M555.5 219V223M556.5 219V222M557.5 218V223M558.5 216V220M563.5 218V223M567.5 220V224M568.5 218V223M569.5 215V224M570.5 214V222M572.5 215V239M575.5 220V228M577.5 219V227M578.5 216V221M582.5 214V221M583.5 212V217M584.5 209V215M585.5 209V213M588.5 212V216M589.5 212V217M590.5 211V217M592.5 206V221M593.5 201V217M594.5 194V202M595.5 183V194M596.5 178V186M597.5 174V184M598.5 172V179M599.5 171V176M602.5 170V176M603.5 169V173M606.5 168V173M607.5 166V170M608.5 166V169M610.5 164V168M611.5 162V167M619.5 174V185M620.5 174V180M621.5 170V176M622.5 163V174M625.5 165V171M626.5 165V169M627.5 164V167M630.5 163V167M631.5 162V167M637.5 171V178M638.5 170V176M641.5 166V173M643.5 169V178M644.5 161V171M645.5 157V162M646.5 154V160M647.5 149V156M648.5 143V151M649.5 143V148M650.5 143V147M651.5 141V145M652.5 141V145M653.5 140V144M654.5 140V143M655.5 138V143M658.5 139V143M659.5 137V142M662.5 139V143M663.5 139V143M665.5 142V147M666.5 138V146M668.5 143V152M670.5 146V156M673.5 148V153M675.5 148V152M676.5 147V151M677.5 147V151M678.5 146V150M679.5 145V149M682.5 145V149M686.5 146V151M687.5 145V149M688.5 142V148M689.5 140V147M690.5 133V147M693.5 142V154M694.5 139V147M695.5 133V145M697.5 138V146M698.5 135V141M704.5 139V144M705.5 139V143M710.5 134V138M711.5 133V137M712.5 131V137M713.5 127V137M720.5 167V176M721.5 164V172M722.5 166V169M723.5 165V169M724.5 164V168M726.5 162V165M727.5 161V165M728.5 160V164M729.5 159V163M731.5 157V161M734.5 154V158M738.5 149V156M740.5 152V168M742.5 152V164M743.5 150V159M744.5 147V156M747.5 149V158M748.5 146V153M749.5 145V150M752.5 147V154M753.5 148V153M754.5 147V151M755.5 145V150M756.5 144V150M757.5 144V148M763.5 162V171M766.5 165V174M771.5 171V175M772.5 169V173M773.5 169V172M774.5 168V172M776.5 166V170M777.5 166V169M779.5 165V170M780.5 163V168M781.5 163V171M785.5 173V185M786.5 161V175M788.5 163V171M789.5 158V166M796.5 168V172M798.5 165V169M799.5 165V169M802.5 162V166M803.5 161V165M804.5 158V163M808.5 162V169M812.5 177V192M814.5 179V199M818.5 203V215M819.5 203V212M821.5 203V207M822.5 200V204M823.5 197V201M824.5 195V200M825.5 193V197M826.5 189V195M827.5 187V191M828.5 182V188M829.5 176V186M831.5 177V186M832.5 175V182M833.5 168V179M834.5 158V173M835.5 157V170M837.5 164V174M839.5 180V193M841.5 180V190M844.5 183V188M845.5 182V185M846.5 180V184M848.5 178V182M850.5 178V182M851.5 172V180M855.5 169V174M856.5 169V174M857.5 164V175M860.5 176V190M861.5 171V185M862.5 169V176M863.5 163V171M866.5 164V169M867.5 164V168M868.5 163V168M870.5 165V169M874.5 170V175M875.5 168V172M878.5 165V168M879.5 163V167M880.5 160V165M881.5 159V163M883.5 160V164M891.5 165V169M894.5 169V176M895.5 168V172M897.5 170V175M898.5 161V172M901.5 175V181" stroke="#008000"/>
<path d="M5.5 92V105M7.5 95V100M9.5 97V100M10.5 97V101M11.5 97V100M12.5 97V101M14.5 99V102M15.5 99V104M19.5 99V102M22.5 95V106M26.5 74V85M28.5 66V75M29.5 69V75M30.5 68V91M32.5 83V89M35.5 83V86M40.5 78V82M42.5 77V81M44.5 77V80M45.5 75V79M46.5 77V81M49.5 61V79M50.5 69V83M52.5 77V89M55.5 77V82M56.5 77V81M58.5 76V80M61.5 74V79M64.5 77V81M65.5 80V86M71.5 72V83M72.5 81V93M74.5 87V95M78.5 80V85M81.5 81V85M82.5 82V86M85.5 86V89M86.5 87V92M87.5 88V95M88.5 89V98M89.5 95V105M90.5 100V111M92.5 105V112M93.5 108V116M94.5 112V118M95.5 115V122M96.5 121V129M97.5 127V134M98.5 130V136M100.5 133V141M101.5 134V144M107.5 132V136M108.5 131V137M112.5 122V135M113.5 130V137M115.5 129V138M119.5 122V134M120.5 129V145M121.5 144V161M124.5 148V160M127.5 144V151M130.5 143V146M131.5 143V146M134.5 144V148M135.5 144V149M136.5 141V154M137.5 152V164M143.5 140V154M144.5 151V158M145.5 155V164M146.5 159V170M147.5 164V174M149.5 160V169M152.5 153V165M153.5 155V163M154.5 159V167M155.5 159V169M157.5 158V162M158.5 158V163M160.5 155V159M166.5 135V149M167.5 142V156M171.5 134V143M172.5 138V143M174.5 138V142M175.5 140V143M176.5 141V145M178.5 142V146M179.5 142V146M183.5 144V149M189.5 135V141M190.5 138V145M192.5 129V141M193.5 137V147M195.5 139V146M197.5 138V148M198.5 146V156M199.5 152V161M201.5 154V158M203.5 155V160M204.5 156V161M205.5 160V167M207.5 161V164M208.5 162V167M209.5 164V170M211.5 164V171M212.5 165V176M213.5 168V178M214.5 176V186M215.5 185V195M216.5 193V201M217.5 198V205M218.5 201V208M219.5 207V217M220.5 212V222M223.5 207V212M225.5 207V212M226.5 209V216M229.5 210V217M230.5 210V219M231.5 212V220M232.5 216V228M235.5 220V230M237.5 213V228M238.5 227V245M242.5 198V219M243.5 203V225M244.5 222V242M245.5 233V243M251.5 227V230M254.5 223V227M258.5 214V221M259.5 215V222M262.5 218V229M263.5 223V233M266.5 205V219M267.5 215V224M268.5 219V227M273.5 203V209M278.5 203V209M279.5 206V214M286.5 198V215M287.5 207V227M289.5 201V214M290.5 208V216M295.5 214V221M296.5 218V225M297.5 219V228M306.5 209V213M309.5 204V216M310.5 211V228M311.5 224V237M312.5 235V247M313.5 237V256M315.5 234V246M316.5 241V250M326.5 214V218M329.5 210V215M336.5 185V194M337.5 183V202M341.5 173V178M344.5 163V172M345.5 168V174M348.5 166V173M350.5 166V174M351.5 174V183M354.5 174V180M357.5 166V190M358.5 184V201M359.5 201V215M360.5 212V224M361.5 222V231M362.5 230V248M364.5 234V250M366.5 236V248M368.5 242V251M369.5 244V258M370.5 250V267M373.5 256V261M374.5 257V264M375.5 262V271M378.5 260V268M379.5 260V269M380.5 257V275M381.5 270V292M384.5 274V287M387.5 276V292M388.5 284V295M389.5 292V301M390.5 300V309M391.5 308V319M392.5 317V327M393.5 325V334M394.5 330V343M395.5 338V348M396.5 344V400M400.5 342V364M401.5 351V363M402.5 355V368M403.5 356V398M408.5 307V333M409.5 328V345M416.5 288V299M418.5 291V300M419.5 293V300M420.5 298V307M421.5 303V309M422.5 307V313M423.5 311V320M424.5 319V332M426.5 319V326M427.5 320V336M433.5 285V301M434.5 296V310M435.5 309V326M437.5 318V327M438.5 320V330M443.5 288V299M444.5 292V302M445.5 296V310M449.5 288V293M454.5 278V295M455.5 293V307M456.5 306V318M457.5 316V328M458.5 327V337M459.5 331V345M460.5 336V350M461.5 338V353M466.5 325V334M467.5 329V337M468.5 332V341M469.5 336V345M472.5 332V339M473.5 332V341M478.5 290V298M481.5 282V293M483.5 273V283M486.5 270V277M487.5 273V284M490.5 273V280M491.5 274V290M496.5 268V277M497.5 271V277M498.5 274V283M499.5 279V294M502.5 274V284M505.5 266V274M506.5 270V277M507.5 270V281M510.5 269V272M514.5 265V269M515.5 266V270M518.5 263V267M519.5 265V268M520.5 265V269M522.5 264V271M523.5 267V280M526.5 259V272M527.5 266V273M534.5 264V268M535.5 263V266M537.5 260V264M542.5 252V258M543.5 254V260M544.5 257V267M553.5 221V225M559.5 215V220M560.5 218V223M561.5 219V222M562.5 218V222M564.5 218V221M565.5 220V223M566.5 221V225M571.5 214V238M573.5 209V224M574.5 221V230M576.5 218V228M579.5 215V220M580.5 217V221M581.5 215V222M586.5 209V214M587.5 210V214M591.5 209V220M600.5 170V175M601.5 172V177M604.5 168V172M605.5 168V173M609.5 166V169M612.5 161V168M613.5 162V169M614.5 166V170M615.5 168V173M616.5 170V176M617.5 173V180M618.5 175V188M623.5 164V172M624.5 166V172M628.5 163V166M629.5 163V166M632.5 160V166M633.5 162V169M634.5 167V171M635.5 168V173M636.5 171V176M639.5 170V173M640.5 169V173M642.5 165V173M656.5 138V142M657.5 139V143M660.5 137V142M661.5 138V143M664.5 141V146M667.5 141V157M669.5 146V155M671.5 143V152M672.5 145V152M674.5 147V151M680.5 145V149M681.5 145V149M683.5 146V150M684.5 146V150M685.5 147V151M691.5 130V146M692.5 141V152M696.5 135V147M699.5 136V142M700.5 135V141M701.5 136V140M702.5 137V141M703.5 139V143M706.5 138V142M707.5 138V141M708.5 137V141M709.5 136V139M714.5 126V138M715.5 127V141M716.5 139V154M717.5 152V162M718.5 155V167M719.5 161V175M725.5 163V167M730.5 158V162M732.5 156V160M733.5 155V159M735.5 153V157M736.5 154V158M737.5 154V157M739.5 138V162M741.5 152V170M745.5 148V156M746.5 149V158M750.5 146V152M751.5 148V153M758.5 144V152M759.5 147V155M760.5 151V156M761.5 148V166M762.5 164V179M764.5 163V171M765.5 169V178M767.5 167V173M768.5 170V174M769.5 170V176M770.5 171V177M775.5 167V171M778.5 165V169M782.5 164V172M783.5 166V175M784.5 171V182M787.5 158V168M790.5 159V166M791.5 161V165M792.5 163V166M793.5 164V168M794.5 163V167M795.5 165V174M797.5 166V170M800.5 164V168M801.5 163V166M805.5 159V164M806.5 160V165M807.5 162V169M809.5 161V172M810.5 168V181M811.5 181V195M813.5 185V202M815.5 179V195M816.5 185V207M817.5 197V212M820.5 204V208M830.5 178V185M836.5 159V172M838.5 164V195M840.5 180V189M842.5 182V189M843.5 182V189M847.5 180V184M849.5 177V182M852.5 172V176M853.5 172V176M854.5 171V174M858.5 162V178M859.5 175V183M864.5 163V170M865.5 163V169M869.5 164V168M871.5 166V170M872.5 167V170M873.5 169V174M876.5 167V171M877.5 166V169M882.5 159V163M884.5 159V163M885.5 161V162M886.5 161V162M887.5 161V162M888.5 161V162M889.5 161V162M890.5 165V172M892.5 166V169M893.5 167V175M896.5 169V173M899.5 163V177M900.5 171V182M902.5 173V182M903.5 173V190M904.5 180V209M905.5 190V211M906.5 202V212M907.5 204V213M908.5 208V216M909.5 213V224M910.5 218V231" stroke="#ff0000"/>
</g>
<g stroke="#0000ff" stroke-width="1" fill="none" shape-rendering="crispEdges">
<line x1="411" y1="290.5" x2="704.7" y2="101" stroke-dasharray="21.4 7.15"/>
<line x1="331.2" y1="444.6" x2="624.9" y2="255.2" stroke-dasharray="21.4 7.15"/>
<line x1="916.3" y1="206" x2="1050.5" y2="451" stroke-dasharray="20.5 6.85"/>
</g>
<line x1="5" y1="55.5" x2="10.2" y2="45" stroke="#ff00ff" stroke-width="1.9"/>
<g shape-rendering="crispEdges">
<rect x="1061" y="44" width="1" height="3" fill="#0000cd"/>
<rect x="1061" y="50" width="1" height="3" fill="#0000cd"/>
<rect x="1061" y="56" width="1" height="3" fill="#0000cd"/>
<rect x="1061" y="62" width="1" height="3" fill="#0000cd"/>
<rect x="1061" y="68" width="1" height="3" fill="#0000cd"/>
<rect x="1061" y="74" width="1" height="3" fill="#0000cd"/>
<rect x="1061" y="80" width="1" height="3" fill="#0000cd"/>
<rect x="1061" y="86" width="1" height="3" fill="#0000cd"/>
<rect x="1062" y="92" width="1" height="3" fill="#0000cd"/>
<rect x="1062" y="98" width="1" height="3" fill="#0000cd"/>
<rect x="1062" y="104" width="1" height="3" fill="#0000cd"/>
<rect x="1062" y="110" width="1" height="3" fill="#0000cd"/>
<rect x="1062" y="116" width="1" height="3" fill="#0000cd"/>
<rect x="1062" y="122" width="1" height="3" fill="#0000cd"/>
<rect x="1062" y="128" width="1" height="3" fill="#0000cd"/>
<rect x="1062" y="134" width="1" height="3" fill="#0000cd"/>
<rect x="1062" y="140" width="1" height="3" fill="#0000cd"/>
<rect x="1062" y="146" width="1" height="3" fill="#0000cd"/>
<rect x="1062" y="152" width="1" height="3" fill="#0000cd"/>
<rect x="1062" y="158" width="1" height="3" fill="#0000cd"/>
<rect x="1063" y="164" width="1" height="3" fill="#0000cd"/>
<rect x="1063" y="170" width="1" height="3" fill="#0000cd"/>
<rect x="1063" y="176" width="1" height="3" fill="#0000cd"/>
<rect x="1063" y="182" width="1" height="3" fill="#0000cd"/>
<rect x="1063" y="188" width="1" height="3" fill="#0000cd"/>
<rect x="1063" y="194" width="1" height="3" fill="#0000cd"/>
<rect x="1063" y="200" width="1" height="3" fill="#0000cd"/>
<rect x="1063" y="206" width="1" height="3" fill="#0000cd"/>
<rect x="1063" y="212" width="1" height="3" fill="#0000cd"/>
<rect x="1063" y="218" width="1" height="3" fill="#0000cd"/>
<rect x="1063" y="224" width="1" height="3" fill="#0000cd"/>
<rect x="1063" y="230" width="1" height="3" fill="#0000cd"/>
<rect x="1064" y="236" width="1" height="3" fill="#0000cd"/>
<rect x="1064" y="242" width="1" height="3" fill="#0000cd"/>
<rect x="1064" y="248" width="1" height="3" fill="#0000cd"/>
<rect x="1064" y="254" width="1" height="3" fill="#0000cd"/>
<rect x="1064" y="260" width="1" height="3" fill="#0000cd"/>
<rect x="1064" y="266" width="1" height="3" fill="#0000cd"/>
<rect x="1064" y="272" width="1" height="3" fill="#0000cd"/>
<rect x="1064" y="278" width="1" height="3" fill="#0000cd"/>
<rect x="1064" y="284" width="1" height="3" fill="#0000cd"/>
<rect x="1064" y="290" width="1" height="3" fill="#0000cd"/>
<rect x="1064" y="296" width="1" height="3" fill="#0000cd"/>
<rect x="1064" y="302" width="1" height="3" fill="#0000cd"/>
<rect x="1065" y="308" width="1" height="3" fill="#0000cd"/>
<rect x="1065" y="314" width="1" height="3" fill="#0000cd"/>
<rect x="1065" y="320" width="1" height="3" fill="#0000cd"/>
<rect x="1065" y="326" width="1" height="3" fill="#0000cd"/>
<rect x="1065" y="332" width="1" height="3" fill="#0000cd"/>
<rect x="1065" y="338" width="1" height="3" fill="#0000cd"/>
<rect x="1065" y="344" width="1" height="3" fill="#0000cd"/>
<rect x="1065" y="350" width="1" height="3" fill="#0000cd"/>
<rect x="1065" y="356" width="1" height="3" fill="#0000cd"/>
<rect x="1065" y="362" width="1" height="3" fill="#0000cd"/>
<rect x="1065" y="368" width="1" height="3" fill="#0000cd"/>
<rect x="1065" y="374" width="1" height="3" fill="#0000cd"/>
<rect x="1066" y="380" width="1" height="3" fill="#0000cd"/>
<rect x="1066" y="386" width="1" height="3" fill="#0000cd"/>
<rect x="1066" y="392" width="1" height="3" fill="#0000cd"/>
<rect x="1066" y="398" width="1" height="3" fill="#0000cd"/>
<rect x="1066" y="404" width="1" height="3" fill="#0000cd"/>
<rect x="1066" y="410" width="1" height="3" fill="#0000cd"/>
<rect x="1066" y="416" width="1" height="3" fill="#0000cd"/>
<rect x="1066" y="422" width="1" height="2" fill="#0000cd"/>
</g>
<g font-family="'Liberation Sans', sans-serif">
<text x="1110" y="42" font-size="10.2" fill="#0a04cd" stroke="#0a04cd" stroke-width="0.18" text-rendering="geometricPrecision" text-anchor="end" textLength="22.3" lengthAdjust="spacingAndGlyphs">100.0</text>
<text x="1110" y="124" font-size="10.2" fill="#0a04cd" stroke="#0a04cd" stroke-width="0.18" text-rendering="geometricPrecision" text-anchor="end" textLength="17.6" lengthAdjust="spacingAndGlyphs">78.6</text>
<text x="1110" y="187" font-size="10.2" fill="#0a04cd" stroke="#0a04cd" stroke-width="0.18" text-rendering="geometricPrecision" text-anchor="end" textLength="17.6" lengthAdjust="spacingAndGlyphs">61.8</text>
<text x="1110" y="232" font-size="10.2" fill="#0a04cd" stroke="#0a04cd" stroke-width="0.18" text-rendering="geometricPrecision" text-anchor="end" textLength="17.6" lengthAdjust="spacingAndGlyphs">50.0</text>
<text x="1110" y="277" font-size="10.2" fill="#0a04cd" stroke="#0a04cd" stroke-width="0.18" text-rendering="geometricPrecision" text-anchor="end" textLength="17.6" lengthAdjust="spacingAndGlyphs">38.2</text>
<text x="1110" y="332" font-size="10.2" fill="#0a04cd" stroke="#0a04cd" stroke-width="0.18" text-rendering="geometricPrecision" text-anchor="end" textLength="17.6" lengthAdjust="spacingAndGlyphs">23.6</text>
<text x="1110" y="422" font-size="10.2" fill="#0a04cd" stroke="#0a04cd" stroke-width="0.18" text-rendering="geometricPrecision" text-anchor="end" textLength="12.4" lengthAdjust="spacingAndGlyphs">0.0</text>
<text x="1324.3" y="22.8" font-size="10.2" fill="#000" stroke="#000" stroke-width="0.18" text-rendering="geometricPrecision" textLength="32.4" lengthAdjust="spacingAndGlyphs">21007.3</text>
<text x="1324.3" y="55.8" font-size="10.2" fill="#000" stroke="#000" stroke-width="0.18" text-rendering="geometricPrecision" textLength="32.4" lengthAdjust="spacingAndGlyphs">20684.3</text>
<text x="1324.3" y="88.8" font-size="10.2" fill="#000" stroke="#000" stroke-width="0.18" text-rendering="geometricPrecision" textLength="32.4" lengthAdjust="spacingAndGlyphs">20351.8</text>
<text x="1324.3" y="121.8" font-size="10.2" fill="#000" stroke="#000" stroke-width="0.18" text-rendering="geometricPrecision" textLength="32.4" lengthAdjust="spacingAndGlyphs">20028.8</text>
<text x="1324.3" y="154.8" font-size="10.2" fill="#000" stroke="#000" stroke-width="0.18" text-rendering="geometricPrecision" textLength="32.4" lengthAdjust="spacingAndGlyphs">19696.3</text>
<text x="1324.3" y="187.8" font-size="10.2" fill="#000" stroke="#000" stroke-width="0.18" text-rendering="geometricPrecision" textLength="32.4" lengthAdjust="spacingAndGlyphs">19373.3</text>
<text x="1324.3" y="220.8" font-size="10.2" fill="#000" stroke="#000" stroke-width="0.18" text-rendering="geometricPrecision" textLength="32.4" lengthAdjust="spacingAndGlyphs">19040.8</text>
<text x="1324.3" y="253.8" font-size="10.2" fill="#000" stroke="#000" stroke-width="0.18" text-rendering="geometricPrecision" textLength="32.4" lengthAdjust="spacingAndGlyphs">18717.8</text>
<text x="1324.3" y="286.8" font-size="10.2" fill="#000" stroke="#000" stroke-width="0.18" text-rendering="geometricPrecision" textLength="32.4" lengthAdjust="spacingAndGlyphs">18385.3</text>
<text x="1324.3" y="319.8" font-size="10.2" fill="#000" stroke="#000" stroke-width="0.18" text-rendering="geometricPrecision" textLength="32.4" lengthAdjust="spacingAndGlyphs">18062.3</text>
<text x="1324.3" y="352.8" font-size="10.2" fill="#000" stroke="#000" stroke-width="0.18" text-rendering="geometricPrecision" textLength="32.4" lengthAdjust="spacingAndGlyphs">17729.8</text>
<text x="1324.3" y="385.8" font-size="10.2" fill="#000" stroke="#000" stroke-width="0.18" text-rendering="geometricPrecision" textLength="32.4" lengthAdjust="spacingAndGlyphs">17406.8</text>
<text x="1324.3" y="418.8" font-size="10.2" fill="#000" stroke="#000" stroke-width="0.18" text-rendering="geometricPrecision" textLength="32.4" lengthAdjust="spacingAndGlyphs">17074.3</text>
<text x="1324.3" y="451.8" font-size="10.2" fill="#000" stroke="#000" stroke-width="0.18" text-rendering="geometricPrecision" textLength="32.4" lengthAdjust="spacingAndGlyphs">16751.3</text>
<g shape-rendering="crispEdges">
<rect x="1320" y="38" width="41" height="11" fill="#ff0000"/>
<rect x="1320" y="120" width="41" height="11" fill="#ff0000"/>
<rect x="1320" y="225" width="41" height="11" fill="#000000"/>
<rect x="1320" y="271" width="41" height="11" fill="#ff0000"/>
<rect x="1320" y="418" width="41" height="11" fill="#ff0000"/>
</g>
<text x="1324.3" y="47.0" font-size="10.2" fill="#fff" stroke="#fff" stroke-width="0.18" text-rendering="geometricPrecision" textLength="32.4" lengthAdjust="spacingAndGlyphs">20757.4</text>
<text x="1324.3" y="129.0" font-size="10.2" fill="#fff" stroke="#fff" stroke-width="0.18" text-rendering="geometricPrecision" textLength="32.4" lengthAdjust="spacingAndGlyphs">19944.2</text>
<text x="1324.3" y="234.0" font-size="10.2" fill="#fff" stroke="#fff" stroke-width="0.18" text-rendering="geometricPrecision" textLength="32.4" lengthAdjust="spacingAndGlyphs">18916.0</text>
<text x="1324.3" y="280.0" font-size="10.2" fill="#fff" stroke="#fff" stroke-width="0.18" text-rendering="geometricPrecision" textLength="32.4" lengthAdjust="spacingAndGlyphs">18448.4</text>
<text x="1324.3" y="427.0" font-size="10.2" fill="#fff" stroke="#fff" stroke-width="0.18" text-rendering="geometricPrecision" textLength="32.4" lengthAdjust="spacingAndGlyphs">16984.6</text>
<text x="1322.3" y="463.9" font-size="10.2" fill="#000" stroke="#000" stroke-width="0.18" text-rendering="geometricPrecision" textLength="27.5" lengthAdjust="spacingAndGlyphs">152.76</text>
<text x="1321.0" y="479.8" font-size="10.2" fill="#000" stroke="#000" stroke-width="0.18" text-rendering="geometricPrecision" textLength="9.9" lengthAdjust="spacingAndGlyphs">80</text>
<text x="1322.3" y="494.9" font-size="10.2" fill="#000" stroke="#000" stroke-width="0.18" text-rendering="geometricPrecision" textLength="17.4" lengthAdjust="spacingAndGlyphs">0.00</text>
<text x="1321.1" y="512.8" font-size="10.2" fill="#000" stroke="#000" stroke-width="0.18" text-rendering="geometricPrecision" textLength="9.8" lengthAdjust="spacingAndGlyphs">50</text>
<text x="1321.0" y="546.0" font-size="10.2" fill="#000" stroke="#000" stroke-width="0.18" text-rendering="geometricPrecision" textLength="10.0" lengthAdjust="spacingAndGlyphs">20</text>
<text x="1322.0" y="561.9" font-size="10.2" fill="#000" stroke="#000" stroke-width="0.18" text-rendering="geometricPrecision" textLength="30.9" lengthAdjust="spacingAndGlyphs">-309.63</text>
<text x="4.4" y="577.8" font-size="10.2" fill="#000" stroke="#000" stroke-width="0.18" text-rendering="geometricPrecision" textLength="46.6" lengthAdjust="spacingAndGlyphs">11 Jul 2024</text>
<text x="68.4" y="577.8" font-size="10.2" fill="#000" stroke="#000" stroke-width="0.18" text-rendering="geometricPrecision" textLength="49.4" lengthAdjust="spacingAndGlyphs">16 Jul 12:00</text>
<text x="132.4" y="577.8" font-size="10.2" fill="#000" stroke="#000" stroke-width="0.18" text-rendering="geometricPrecision" textLength="49.4" lengthAdjust="spacingAndGlyphs">19 Jul 04:00</text>
<text x="196.4" y="577.8" font-size="10.2" fill="#000" stroke="#000" stroke-width="0.18" text-rendering="geometricPrecision" textLength="49.4" lengthAdjust="spacingAndGlyphs">23 Jul 21:00</text>
<text x="260.4" y="577.8" font-size="10.2" fill="#000" stroke="#000" stroke-width="0.18" text-rendering="geometricPrecision" textLength="49.4" lengthAdjust="spacingAndGlyphs">26 Jul 13:00</text>
<text x="324.4" y="577.8" font-size="10.2" fill="#000" stroke="#000" stroke-width="0.18" text-rendering="geometricPrecision" textLength="49.4" lengthAdjust="spacingAndGlyphs">31 Jul 06:00</text>
<text x="388.4" y="577.8" font-size="10.2" fill="#000" stroke="#000" stroke-width="0.18" text-rendering="geometricPrecision" textLength="50.6" lengthAdjust="spacingAndGlyphs">4 Aug 23:00</text>
<text x="452.4" y="577.8" font-size="10.2" fill="#000" stroke="#000" stroke-width="0.18" text-rendering="geometricPrecision" textLength="50.6" lengthAdjust="spacingAndGlyphs">7 Aug 15:00</text>
<text x="516.4" y="577.8" font-size="10.2" fill="#000" stroke="#000" stroke-width="0.18" text-rendering="geometricPrecision" textLength="55.4" lengthAdjust="spacingAndGlyphs">12 Aug 08:00</text>
<text x="580.4" y="577.8" font-size="10.2" fill="#000" stroke="#000" stroke-width="0.18" text-rendering="geometricPrecision" textLength="55.4" lengthAdjust="spacingAndGlyphs">15 Aug 00:00</text>
<text x="644.4" y="577.8" font-size="10.2" fill="#000" stroke="#000" stroke-width="0.18" text-rendering="geometricPrecision" textLength="55.4" lengthAdjust="spacingAndGlyphs">19 Aug 17:00</text>
<text x="708.4" y="577.8" font-size="10.2" fill="#000" stroke="#000" stroke-width="0.18" text-rendering="geometricPrecision" textLength="55.4" lengthAdjust="spacingAndGlyphs">22 Aug 09:00</text>
<text x="772.4" y="577.8" font-size="10.2" fill="#000" stroke="#000" stroke-width="0.18" text-rendering="geometricPrecision" textLength="55.4" lengthAdjust="spacingAndGlyphs">27 Aug 02:00</text>
<text x="836.4" y="577.8" font-size="10.2" fill="#000" stroke="#000" stroke-width="0.18" text-rendering="geometricPrecision" textLength="55.4" lengthAdjust="spacingAndGlyphs">29 Aug 18:00</text>
<text x="900.4" y="577.8" font-size="10.2" fill="#000" stroke="#000" stroke-width="0.18" text-rendering="geometricPrecision" textLength="50.1" lengthAdjust="spacingAndGlyphs">3 Sep 11:00</text>
<text x="9.4" y="465.8" font-size="10.2" fill="#000" stroke="#000" stroke-width="0.18" text-rendering="geometricPrecision" textLength="128.2" lengthAdjust="spacingAndGlyphs">MACD(12,26,9) -140.19 -77.27</text>
<text text-rendering="geometricPrecision"><tspan x="5.01" y="28.50" font-size="24.24" textLength="10.77" lengthAdjust="spacingAndGlyphs" fill="#0000ff">v</tspan><tspan x="18.18" y="28.47" font-size="25.75" textLength="6.91" lengthAdjust="spacingAndGlyphs" fill="#0000ff">)</tspan></text>
<text text-rendering="geometricPrecision"><tspan x="27.08" y="23.65" font-size="19.94" textLength="7.12" lengthAdjust="spacingAndGlyphs" fill="#008000">[</tspan><tspan x="34.92" y="23.80" font-size="17.42" textLength="10.57" lengthAdjust="spacingAndGlyphs" fill="#008000">v</tspan><tspan x="46.69" y="23.65" font-size="19.94" textLength="7.12" lengthAdjust="spacingAndGlyphs" fill="#008000">]</tspan></text>
<text text-rendering="geometricPrecision"><tspan x="66.75" y="32.15" font-size="24.93" textLength="13.26" lengthAdjust="spacingAndGlyphs" fill="#0000ff">5</tspan></text>
<text text-rendering="geometricPrecision"><tspan x="89.83" y="28.16" font-size="28.22" textLength="7.92" lengthAdjust="spacingAndGlyphs" fill="#ff0000">(</tspan><tspan x="99.55" y="28.12" font-size="28.08" textLength="13.26" lengthAdjust="spacingAndGlyphs" fill="#ff0000">5</tspan><tspan x="114.96" y="28.16" font-size="28.22" textLength="7.92" lengthAdjust="spacingAndGlyphs" fill="#ff0000">)</tspan></text>
<text text-rendering="geometricPrecision"><tspan x="136.80" y="26.25" font-size="27.65" textLength="9.77" lengthAdjust="spacingAndGlyphs" fill="#000">[</tspan><tspan x="147.40" y="25.92" font-size="27.51" textLength="13.85" lengthAdjust="spacingAndGlyphs" fill="#000">5</tspan><tspan x="161.72" y="26.25" font-size="27.65" textLength="9.77" lengthAdjust="spacingAndGlyphs" fill="#000">]</tspan></text>
<rect x="56.15" y="50.98" width="1.95" height="2.20" fill="#0000ff"/>
<rect x="62.75" y="50.98" width="1.95" height="2.20" fill="#0000ff"/>
<text text-rendering="geometricPrecision"><tspan x="46.92" y="63.86" font-size="24.36" textLength="7.41" lengthAdjust="spacingAndGlyphs" fill="#0000ff">(</tspan><tspan x="55.52" y="63.80" font-size="24.28" textLength="7.57" lengthAdjust="spacingAndGlyphs" fill="#0000ff">i</tspan><tspan x="62.12" y="63.80" font-size="24.28" textLength="7.57" lengthAdjust="spacingAndGlyphs" fill="#0000ff">i</tspan><tspan x="70.87" y="63.86" font-size="24.36" textLength="7.41" lengthAdjust="spacingAndGlyphs" fill="#0000ff">)</tspan></text>
<rect x="14.27" y="118.84" width="1.73" height="2.23" fill="#0000ff"/>
<text text-rendering="geometricPrecision"><tspan x="5.31" y="131.87" font-size="24.79" textLength="6.91" lengthAdjust="spacingAndGlyphs" fill="#0000ff">(</tspan><tspan x="13.72" y="131.80" font-size="24.55" textLength="6.56" lengthAdjust="spacingAndGlyphs" fill="#0000ff">i</tspan><tspan x="21.88" y="131.87" font-size="24.79" textLength="6.91" lengthAdjust="spacingAndGlyphs" fill="#0000ff">)</tspan></text>
<rect x="347.27" y="139.98" width="1.73" height="2.20" fill="#0000ff"/>
<text text-rendering="geometricPrecision"><tspan x="337.91" y="152.79" font-size="24.68" textLength="6.91" lengthAdjust="spacingAndGlyphs" fill="#0000ff">(</tspan><tspan x="346.72" y="152.80" font-size="24.28" textLength="6.56" lengthAdjust="spacingAndGlyphs" fill="#0000ff">i</tspan><tspan x="352.60" y="152.80" font-size="24.24" textLength="12.30" lengthAdjust="spacingAndGlyphs" fill="#0000ff">v</tspan><tspan x="366.87" y="152.79" font-size="24.68" textLength="7.29" lengthAdjust="spacingAndGlyphs" fill="#0000ff">)</tspan></text>
<rect x="302.12" y="277.96" width="1.78" height="2.19" fill="#0000ff"/>
<rect x="309.12" y="277.96" width="1.78" height="2.19" fill="#0000ff"/>
<rect x="316.31" y="277.96" width="1.78" height="2.19" fill="#0000ff"/>
<text text-rendering="geometricPrecision"><tspan x="292.84" y="290.89" font-size="24.68" textLength="7.29" lengthAdjust="spacingAndGlyphs" fill="#0000ff">(</tspan><tspan x="301.54" y="290.70" font-size="24.14" textLength="6.82" lengthAdjust="spacingAndGlyphs" fill="#0000ff">i</tspan><tspan x="308.54" y="290.70" font-size="24.14" textLength="6.82" lengthAdjust="spacingAndGlyphs" fill="#0000ff">i</tspan><tspan x="315.74" y="290.70" font-size="24.14" textLength="6.82" lengthAdjust="spacingAndGlyphs" fill="#0000ff">i</tspan><tspan x="324.08" y="290.89" font-size="24.68" textLength="6.91" lengthAdjust="spacingAndGlyphs" fill="#0000ff">)</tspan></text>
<text text-rendering="geometricPrecision"><tspan x="401.01" y="280.89" font-size="24.68" textLength="6.91" lengthAdjust="spacingAndGlyphs" fill="#0000ff">(</tspan><tspan x="409.10" y="280.66" font-size="24.09" textLength="11.90" lengthAdjust="spacingAndGlyphs" fill="#0000ff">a</tspan><tspan x="423.77" y="280.89" font-size="24.68" textLength="7.41" lengthAdjust="spacingAndGlyphs" fill="#0000ff">)</tspan></text>
<text text-rendering="geometricPrecision"><tspan x="454.64" y="380.81" font-size="24.57" textLength="7.29" lengthAdjust="spacingAndGlyphs" fill="#0000ff">(</tspan><tspan x="462.87" y="380.86" font-size="24.35" textLength="13.13" lengthAdjust="spacingAndGlyphs" fill="#0000ff">b</tspan><tspan x="477.87" y="380.81" font-size="24.57" textLength="7.29" lengthAdjust="spacingAndGlyphs" fill="#0000ff">)</tspan></text>
<text text-rendering="geometricPrecision"><tspan x="701.01" y="120.97" font-size="24.79" textLength="6.91" lengthAdjust="spacingAndGlyphs" fill="#0000ff">(</tspan><tspan x="708.56" y="120.66" font-size="23.91" textLength="12.38" lengthAdjust="spacingAndGlyphs" fill="#0000ff">c</tspan><tspan x="723.08" y="120.97" font-size="24.79" textLength="6.91" lengthAdjust="spacingAndGlyphs" fill="#0000ff">)</tspan></text>
<rect x="740.00" y="96.29" width="1.40" height="1.79" fill="#008000"/>
<rect x="745.79" y="96.29" width="1.51" height="1.79" fill="#008000"/>
<text text-rendering="geometricPrecision"><tspan x="731.28" y="106.61" font-size="20.15" textLength="7.12" lengthAdjust="spacingAndGlyphs" fill="#008000">[</tspan><tspan x="739.58" y="106.70" font-size="19.72" textLength="5.05" lengthAdjust="spacingAndGlyphs" fill="#008000">i</tspan><tspan x="745.32" y="106.70" font-size="19.72" textLength="5.55" lengthAdjust="spacingAndGlyphs" fill="#008000">i</tspan><tspan x="751.90" y="106.61" font-size="20.15" textLength="6.84" lengthAdjust="spacingAndGlyphs" fill="#008000">]</tspan></text>
<text text-rendering="geometricPrecision"><tspan x="394.64" y="423.86" font-size="24.36" textLength="7.29" lengthAdjust="spacingAndGlyphs" fill="#0000ff">(</tspan><tspan x="402.80" y="423.80" font-size="24.24" textLength="12.30" lengthAdjust="spacingAndGlyphs" fill="#0000ff">v</tspan><tspan x="416.77" y="423.86" font-size="24.36" textLength="7.29" lengthAdjust="spacingAndGlyphs" fill="#0000ff">)</tspan></text>
<rect x="428.57" y="426.19" width="1.73" height="1.79" fill="#008000"/>
<text text-rendering="geometricPrecision"><tspan x="420.18" y="436.45" font-size="19.94" textLength="7.12" lengthAdjust="spacingAndGlyphs" fill="#008000">[</tspan><tspan x="428.02" y="436.60" font-size="19.72" textLength="6.56" lengthAdjust="spacingAndGlyphs" fill="#008000">i</tspan><tspan x="434.59" y="436.45" font-size="19.94" textLength="7.12" lengthAdjust="spacingAndGlyphs" fill="#008000">]</tspan></text>
<rect x="1002.16" y="367.86" width="1.84" height="2.24" fill="#0000ff"/>
<text text-rendering="geometricPrecision"><tspan x="992.62" y="380.85" font-size="24.89" textLength="7.41" lengthAdjust="spacingAndGlyphs" fill="#0000ff">(</tspan><tspan x="1001.57" y="380.90" font-size="24.69" textLength="7.07" lengthAdjust="spacingAndGlyphs" fill="#0000ff">i</tspan><tspan x="1009.97" y="380.85" font-size="24.89" textLength="7.41" lengthAdjust="spacingAndGlyphs" fill="#0000ff">)</tspan></text>
</g>
<g shape-rendering="crispEdges">
<rect x="5" y="44" width="1313" height="1" fill="#ff0000"/>
<rect x="5" y="126" width="1313" height="1" fill="#ff0000"/>
<rect x="5" y="277" width="1313" height="1" fill="#ff0000"/>
<rect x="5" y="424" width="1313" height="1" fill="#ff0000"/>
<rect x="1061" y="44" width="49" height="1" fill="#0000cd"/>
<rect x="1061" y="126" width="49" height="1" fill="#0000cd"/>
<rect x="1061" y="189" width="49" height="1" fill="#0000cd"/>
<rect x="1061" y="234" width="49" height="1" fill="#0000cd"/>
<rect x="1061" y="279" width="49" height="1" fill="#0000cd"/>
<rect x="1061" y="334" width="49" height="1" fill="#0000cd"/>
<rect x="1061" y="424" width="49" height="1" fill="#0000cd"/>
</g>
<g font-family="'Liberation Sans', sans-serif">
<path d="M8 11 H15.5 L11.75 15.2Z" fill="#000"/>
<text x="20.9" y="15.9" font-size="10.2" fill="#000" stroke="#000" stroke-width="0.18" text-rendering="geometricPrecision" textLength="59.3" lengthAdjust="spacingAndGlyphs">NAS100(€),H1</text>
</g></svg>
</body></html>
